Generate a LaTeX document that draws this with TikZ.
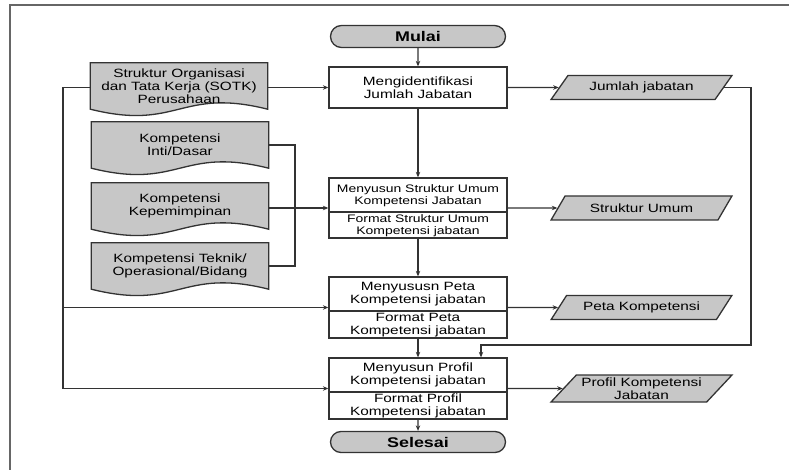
\documentclass[tikz,border=0pt]{standalone}
\usepackage{fontspec}
\setmainfont[FakeStretch=1.28]{Liberation Sans}
\usetikzlibrary{shapes.geometric,shapes.misc,arrows.meta,backgrounds}
\begin{document}
\begin{tikzpicture}[x=1pt,y=-1pt,
  every node/.style={font=\fontsize{12}{13}\selectfont, align=center, inner sep=0pt},
  small/.style={font=\fontsize{10.9}{12}\selectfont},
  ln/.style={draw=black!80, line width=1.3pt},
  arr/.style={ln, -{Stealth[length=5.5pt,width=4.5pt]}},
  boxs/.style={draw=black!80, line width=1.3pt, fill=white, minimum width=178pt},
  term/.style={rounded rectangle, draw=black!80, line width=1.3pt, fill=black!22, minimum width=175pt, minimum height=22pt, font=\fontsize{14}{15}\selectfont\bfseries},
  docn/.style={minimum width=177pt, minimum height=46pt},
  docline/.style={draw=black!80, line width=1.3pt, fill=black!22},
  para/.style={trapezium, trapezium left angle=43, trapezium right angle=137, trapezium stretches=true, draw=black!80, line width=1.3pt, fill=black!22, minimum width=181pt, minimum height=24pt},
  frame/.style={draw=black!60, line width=1.6pt}
]
\useasboundingbox (0,0) rectangle (789,470);
\draw[frame] (10,470) -- (10,5) -- (789,5);

% main column
\node[term] (mulai) at (418,36.5) {Mulai};
\node[boxs, minimum height=41pt] (mengid) at (418,87.5) {Mengidentifikasi\\Jumlah Jabatan};
\node[boxs, minimum height=60pt] (struk) at (418,208) {};
\node[small] (strukA) at (418,196) {Menyusun Struktur Umum\\Kompetensi Jabatan};
\node[small] (strukB) at (418,226) {Format Struktur Umum\\Kompetensi jabatan};
\draw[ln] (struk.west |- 0,212) -- (struk.east |- 0,212);
\node[boxs, minimum height=61pt] (peta) at (418,307.5) {};
\node (petaA) at (418,294) {Menyususn Peta\\Kompetensi jabatan};
\node (petaB) at (418,325) {Format Peta\\Kompetensi jabatan};
\draw[ln] (peta.west |- 0,311) -- (peta.east |- 0,311);
\node[boxs, minimum height=61pt] (profil) at (418,388.5) {};
\node (profilA) at (418,375) {Menyusun Profil\\Kompetensi jabatan};
\node (profilB) at (418,406) {Format Profil\\Kompetensi jabatan};
\draw[ln] (profil.west |- 0,392) -- (profil.east |- 0,392);
\node[term, minimum height=21pt] (selesai) at (418,442) {Selesai};

% documents
\node[docn] (sotk) at (179,86) {Struktur Organisasi\\dan Tata Kerja (SOTK)\\Perusahaan};
\node[docn] (inti) at (180,145) {Kompetensi\\Inti/Dasar};
\node[docn] (kep) at (180,206) {Kompetensi\\Kepemimpinan};
\node[docn] (teknik) at (180,266) {Kompetensi Teknik/\\Operasional/Bidang};
\begin{pgfonlayer}{background}
\foreach \d in {sotk,inti,kep,teknik}{
  \path[docline] (\d.north west) -- (\d.north east) -- (\d.south east)
     .. controls +(-88,-22) and +(88,22) .. (\d.south west) -- cycle;
}
\end{pgfonlayer}

% outputs
\node[para] (jumlah) at (641.5,87.5) {Jumlah jabatan};
\node[para] (sumum) at (641.5,208) {Struktur Umum};
\node[para] (pkomp) at (641.5,307.5) {Peta Kompetensi};
\node[para, minimum height=27pt] (pprof) at (641.5,388.5) {Profil Kompetensi\\Jabatan};

% helper coordinates
\coordinate (lx) at (63,0);
\coordinate (rx) at (295,0);
\coordinate (rr) at (751,0);
\coordinate (ret) at (481,345);

% main flow
\draw[arr] (mulai) -- (mengid);
\draw[arr] (mengid) -- (struk);
\draw[arr] (struk) -- (peta);
\draw[arr] (peta) -- (profil);
\draw[arr] (profil) -- (selesai);

% inputs
\draw[arr] (sotk.east |- mengid.west) -- (mengid.west);
\draw[arr] (kep.east |- struk.west) -- (struk.west);
\draw[ln] (inti.east) -| (rx |- teknik.east) -- (teknik.east);
\draw[ln] (sotk.west |- mengid.west) -- (lx |- mengid.west) -- (lx |- profil.west);
\draw[arr] (lx |- peta.west) -- (peta.west);
\draw[arr] (lx |- profil.west) -- (profil.west);

% outputs
\draw[arr] (mengid.east) -- (jumlah.west);
\draw[arr] (struk.east) -- (sumum.west);
\draw[arr] (peta.east) -- (pkomp.west);
\draw[arr] (profil.east) -- (pprof.west);
\draw[arr] (jumlah.east) -| (rr |- ret) -- (ret) -- (ret |- profil.north);
\end{tikzpicture}
\end{document}
